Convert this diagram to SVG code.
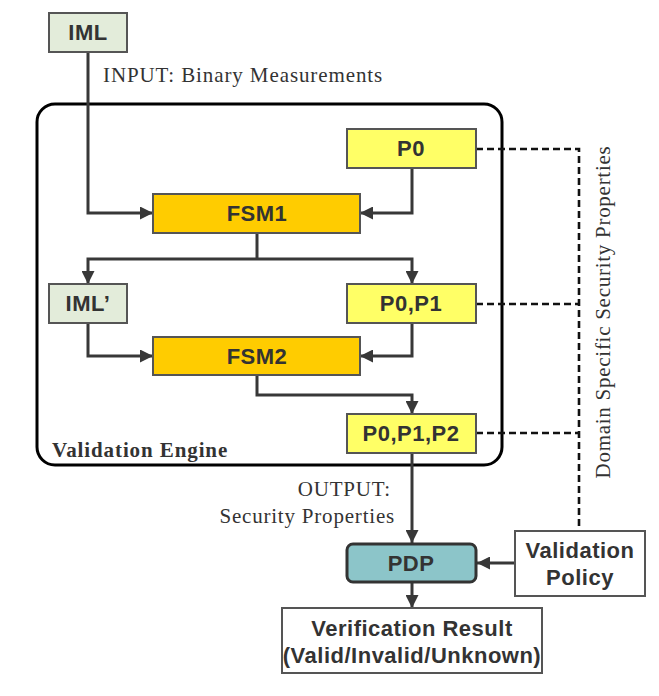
<svg xmlns="http://www.w3.org/2000/svg" width="659" height="696" viewBox="0 0 659 696">
<defs>
<marker id="ah" markerUnits="userSpaceOnUse" markerWidth="13" markerHeight="13" refX="13" refY="6.5" orient="auto">
<path d="M0,0 L13,6.5 L0,13 z" fill="#383838"/>
</marker>
<style>
.box{stroke:#555;stroke-width:2}
.lbl{font-family:"Liberation Sans",Arial,sans-serif;font-weight:bold;font-size:22px;fill:#333;text-anchor:middle;letter-spacing:0.5px}
.ser{font-family:"Liberation Serif","Times New Roman",serif;font-size:21px;fill:#333}
.con{fill:none;stroke:#383838;stroke-width:3}
.dash{fill:none;stroke:#111;stroke-width:2.6;stroke-dasharray:7,4}
</style>
</defs>
<rect width="659" height="696" fill="#fff"/>

<g id="engine">
<rect x="37" y="104" width="465" height="361" rx="18" fill="none" stroke="#000" stroke-width="3"/>
<text class="ser" x="52" y="457" font-weight="bold" letter-spacing="0.9">Validation Engine</text>
</g>

<g id="connectors">
<path class="con" d="M88,52 V213 H153" marker-end="url(#ah)"/>
<path class="con" d="M412,168 V213 H360" marker-end="url(#ah)"/>
<path class="con" d="M257,233 V259"/>
<path class="con" d="M257,259 H88 V284" marker-end="url(#ah)"/>
<path class="con" d="M257,259 H412 V284" marker-end="url(#ah)"/>
<path class="con" d="M88,323 V356 H153" marker-end="url(#ah)"/>
<path class="con" d="M412,323 V356 H360" marker-end="url(#ah)"/>
<path class="con" d="M257,375 V395 H412 V414" marker-end="url(#ah)"/>
<path class="con" d="M412,453 V543" marker-end="url(#ah)"/>
<path class="con" d="M412,582 V608" marker-end="url(#ah)"/>
<path class="con" d="M515,563 H477" marker-end="url(#ah)"/>
<path class="dash" d="M476,149 H579 V531"/>
<path class="dash" d="M476,304 H579"/>
<path class="dash" d="M476,433 H579"/>
</g>

<g id="labels">
<text class="ser" x="103" y="82" letter-spacing="0.9">INPUT: Binary Measurements</text>
<text class="ser" x="391" y="496" text-anchor="end" letter-spacing="0.8">OUTPUT:</text>
<text class="ser" x="395" y="523" text-anchor="end" letter-spacing="0.8">Security Properties</text>
<text class="ser" transform="translate(610,312) rotate(-90)" text-anchor="middle" letter-spacing="0.73">Domain Specific Security Properties</text>
</g>

<g id="iml">
<rect class="box" x="49" y="13" width="78" height="39" fill="#E3ECDA"/>
<text class="lbl" x="88" y="40">IML</text>
</g>
<g id="p0">
<rect class="box" x="347" y="129" width="129" height="39" fill="#FFFF66"/>
<text class="lbl" x="411" y="156">P0</text>
</g>
<g id="fsm1">
<rect class="box" x="153" y="194" width="207" height="39" fill="#FFCC00"/>
<text class="lbl" x="257" y="221" letter-spacing="0.8">FSM1</text>
</g>
<g id="imlp">
<rect class="box" x="49" y="284" width="78" height="39" fill="#E3ECDA"/>
<text class="lbl" x="88" y="311">IML’</text>
</g>
<g id="p0p1">
<rect class="box" x="347" y="284" width="129" height="39" fill="#FFFF66"/>
<text class="lbl" x="411" y="311">P0,P1</text>
</g>
<g id="fsm2">
<rect class="box" x="153" y="337" width="207" height="38" fill="#FFCC00"/>
<text class="lbl" x="257" y="364" letter-spacing="0.8">FSM2</text>
</g>
<g id="p0p1p2">
<rect class="box" x="347" y="414" width="129" height="39" fill="#FFFF66"/>
<text class="lbl" x="411" y="441">P0,P1,P2</text>
</g>
<g id="pdp">
<rect x="347" y="544" width="129" height="38" rx="6" fill="#8CC5C9" stroke="#333" stroke-width="3"/>
<text class="lbl" x="411" y="571">PDP</text>
</g>
<g id="policy">
<rect class="box" x="515" y="531" width="130" height="65" fill="#fff"/>
<text class="lbl" x="580" y="558">Validation</text>
<text class="lbl" x="580" y="585">Policy</text>
</g>
<g id="result">
<rect class="box" x="282" y="608" width="260" height="65" fill="#fff"/>
<text class="lbl" x="412" y="636">Verification Result</text>
<text class="lbl" x="412" y="663">(Valid/Invalid/Unknown)</text>
</g>
</svg>
